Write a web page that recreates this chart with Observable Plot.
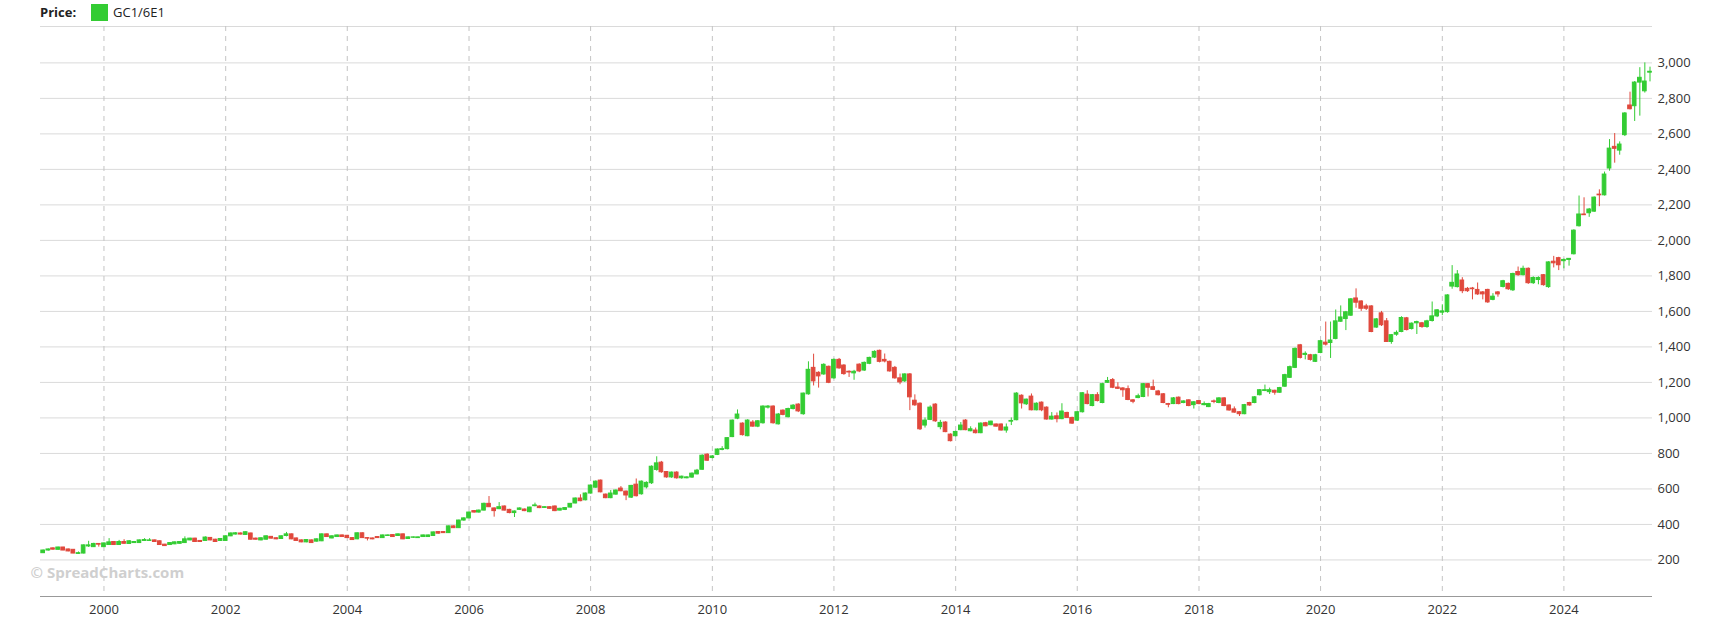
<!DOCTYPE html>
<html><head><meta charset="utf-8">
<script src="https://cdn.jsdelivr.net/npm/d3@7"></script>
<script src="https://cdn.jsdelivr.net/npm/@observablehq/plot@0.6"></script>
<style>
body{margin:0;background:#fff;font-family:"Open Sans",sans-serif;}
#legend{position:relative;height:20px;width:1735px;font-size:13px;color:#222;}
#legend span{position:absolute;line-height:17px;top:4px;}
#legend .sw{top:4px;width:17px;height:17px;background:#33cc33;}
#chart svg{display:block;overflow:visible;}
</style></head><body>
<div id="legend"><span style="left:40px;font-weight:bold;">Price:</span><span class="sw" style="left:91px;"></span><span style="left:113px;">GC1/6E1</span></div>
<div id="chart"></div>
<script>
const startYear = 1999; // first monthly candle: Jan 1999
const opens = [
238,253,265,257,270,259,257,234,236,276,272,290,
272,284,301,284,301,290,295,295,307,307,310,305,
286,284,288,291,295,310,320,307,307,324,314,307,
307,333,343,349,341,349,320,310,314,330,322,318,
335,344,321,310,299,310,303,305,344,321,329,338,
336,323,316,350,323,321,329,323,335,340,335,344,
318,325,323,329,329,335,357,357,351,389,379,422,
434,475,467,478,516,490,486,501,482,464,482,484,
469,503,501,493,497,501,478,482,495,518,546,536,
574,607,647,568,548,568,602,585,551,624,570,609,
632,707,748,695,665,692,660,660,664,682,708,793,
774,792,820,824,892,996,968,897,974,951,970,1058,
1064,964,1041,1004,1050,1075,1021,1133,1282,1254,1245,1288,
1223,1327,1295,1260,1251,1300,1267,1305,1340,1378,1327,1316,
1282,1223,1206,1245,1097,1080,957,989,1075,948,974,906,
897,931,985,925,929,914,970,959,963,963,929,979,
987,1125,1077,1120,1043,1086,1058,991,1009,993,1028,1000,
985,1032,1131,1067,1128,1084,1198,1213,1171,1166,1162,1099,
1112,1118,1190,1173,1149,1133,1078,1078,1114,1084,1099,1072,
1095,1072,1061,1093,1084,1110,1070,1048,1032,1021,1084,1084,
1128,1152,1145,1153,1142,1176,1226,1282,1409,1355,1353,1316,
1366,1424,1422,1445,1542,1557,1576,1673,1656,1628,1628,1509,
1589,1544,1428,1469,1484,1561,1501,1533,1533,1512,1546,1572,
1593,1596,1740,1737,1774,1727,1729,1721,1707,1721,1665,1707,
1738,1755,1719,1822,1804,1840,1759,1777,1804,1737,1880,1900,
1883,1890,1922,2080,2146,2153,2162,2258,2254,2405,2527,2506,
2593,2760,2756,2889,2840,2945
];
const highs = [
256,262,268,272,271,261,258,245,284,305,294,292,
295,320,304,310,314,308,304,312,320,320,312,307,
288,297,301,303,330,322,322,309,330,326,316,320,
335,352,353,352,358,351,323,324,335,332,324,335,
355,346,323,312,314,312,318,346,346,335,340,340,
338,325,352,352,325,323,331,340,341,342,346,346,
329,329,329,340,340,357,359,359,391,392,424,437,
470,478,481,520,557,493,523,504,485,476,493,487,
497,520,504,499,500,504,491,495,518,549,567,577,
622,645,650,571,591,594,613,588,620,656,645,640,
730,781,755,698,695,697,672,668,690,710,792,798,
788,825,838,889,988,1045,972,990,985,985,1068,1070,
1068,1025,1045,1055,1075,1080,1140,1316,1359,1260,1305,1292,
1332,1335,1300,1265,1268,1305,1315,1342,1378,1382,1360,1320,
1290,1247,1248,1250,1130,1085,1000,1068,1080,986,978,910,
925,974,990,950,943,972,975,982,966,966,966,1000,
1142,1130,1106,1135,1085,1090,1062,1030,1028,1080,1032,1004,
1036,1142,1153,1132,1142,1195,1228,1222,1198,1170,1180,1103,
1134,1194,1194,1213,1155,1137,1082,1115,1118,1096,1102,1092,
1098,1090,1082,1101,1114,1114,1073,1062,1035,1076,1088,1120,
1160,1185,1168,1156,1172,1246,1292,1394,1414,1372,1358,1358,
1437,1540,1540,1608,1631,1600,1672,1727,1660,1640,1632,1560,
1600,1560,1470,1490,1570,1566,1535,1545,1538,1550,1653,1610,
1637,1694,1858,1830,1790,1735,1735,1760,1712,1725,1700,1712,
1775,1760,1815,1850,1855,1845,1795,1795,1808,1880,1910,1905,
1895,1898,2060,2250,2240,2180,2245,2285,2385,2568,2602,2555,
2720,2835,2895,2973,3000,2976
];
const lows = [
236,250,255,255,252,246,235,232,234,270,270,272,
270,282,282,282,288,288,293,293,305,305,299,282,
276,282,286,289,293,308,299,299,305,308,299,305,
305,331,341,341,339,312,312,308,312,318,314,316,
330,314,305,297,297,293,301,303,327,319,327,327,
321,310,314,321,307,314,321,321,333,327,333,314,
316,321,321,327,327,333,346,349,349,377,377,418,
432,464,464,476,495,441,483,476,460,439,479,472,
466,499,489,490,485,472,476,478,493,516,528,533,
571,604,578,545,545,565,584,534,546,555,565,600,
625,700,688,660,660,655,655,657,660,679,705,755,
770,788,815,820,889,990,898,894,948,945,965,1050,
965,960,1012,1000,1045,1030,1015,1128,1180,1168,1240,1193,
1218,1274,1240,1228,1212,1255,1262,1300,1335,1310,1310,1258,
1218,1187,1200,1041,1065,929,943,985,975,933,917,865,
893,928,928,922,910,911,950,956,948,926,914,957,
984,1050,1070,1040,1040,1035,988,988,972,990,997,964,
980,1028,1074,1063,1090,1080,1194,1165,1160,1116,1097,1080,
1108,1114,1118,1154,1124,1080,1057,1075,1074,1080,1063,1050,
1074,1068,1058,1080,1080,1063,1038,1026,1008,1018,1066,1080,
1124,1148,1132,1128,1138,1172,1222,1278,1332,1327,1320,1312,
1362,1405,1335,1440,1538,1492,1572,1618,1600,1605,1480,1505,
1515,1425,1415,1460,1480,1490,1495,1470,1505,1505,1540,1565,
1576,1590,1725,1732,1700,1707,1665,1690,1665,1645,1660,1680,
1732,1718,1712,1798,1800,1752,1752,1750,1742,1730,1845,1830,
1840,1855,1918,2075,2140,2130,2158,2190,2250,2390,2435,2480,
2585,2735,2670,2700,2830,2893
];
const closes = [
253,259,258,270,253,248,236,238,282,282,290,286,
293,299,284,301,291,305,301,310,312,310,301,284,
278,295,299,301,316,320,301,301,326,310,301,318,
333,349,350,343,356,314,314,322,333,320,316,333,
344,316,307,299,312,295,316,344,329,333,338,329,
323,312,350,323,320,316,323,338,338,329,344,316,
327,327,327,338,338,355,348,351,389,379,422,434,
467,467,478,516,497,475,497,478,464,473,490,475,
495,507,492,497,488,475,488,492,516,546,531,574,
619,641,581,548,574,591,587,563,617,559,641,634,
725,744,694,665,692,660,669,665,686,703,787,759,
783,822,824,886,985,1019,903,985,951,981,1064,1064,
970,1019,1017,1050,1069,1037,1137,1271,1206,1234,1299,1198,
1327,1279,1247,1256,1260,1262,1310,1338,1372,1316,1318,1262,
1223,1200,1245,1116,1071,936,985,1058,981,972,920,869,
921,957,931,936,914,968,953,979,951,929,946,983,
1137,1082,1103,1043,1080,1043,991,1007,993,1036,1000,968,
1032,1139,1078,1128,1095,1190,1208,1170,1164,1156,1101,1091,
1122,1190,1170,1158,1128,1084,1074,1110,1078,1093,1067,1088,
1078,1078,1078,1090,1110,1067,1042,1030,1021,1072,1070,1116,
1156,1156,1156,1142,1168,1241,1286,1389,1338,1361,1327,1353,
1432,1413,1436,1544,1566,1595,1668,1649,1615,1615,1484,1555,
1522,1428,1466,1479,1563,1495,1531,1540,1512,1544,1572,1606,
1600,1690,1761,1808,1714,1714,1725,1696,1696,1651,1683,1696,
1770,1725,1811,1804,1840,1759,1788,1788,1748,1876,1871,1860,
1890,1896,2055,2146,2142,2174,2241,2254,2371,2517,2516,2540,
2715,2739,2889,2916,2895,2950
];
const yTickValues = d3.range(200, 3001, 200);
const xTickYears = d3.range(2000, 2025, 2);
const watermark = ["© SpreadCharts.com"];

const up = "#33cc33", down = "#e0483c";
const data = opens.map((o, i) => ({
  date: new Date(Date.UTC(startYear, i, 1)),
  open: o, high: highs[i], low: lows[i], close: closes[i]
}));
const half = 11 * 864e5;
const colorOf = d => d.close >= d.open ? up : down;
const xTicks = xTickYears.map(y => new Date(Date.UTC(y, 0, 1)));
const yMin = -6, yMax = 3205;

const chart = Plot.plot({
  width: 1735, height: 604,
  marginTop: 6, marginBottom: 28, marginLeft: 40, marginRight: 83,
  style: {fontFamily: "'Open Sans', sans-serif", fontSize: "13px", color: "#333", background: "#fff"},
  x: {type: "utc", domain: [new Date(Date.UTC(1998, 11, 16)), new Date(Date.UTC(2025, 5, 16))]},
  y: {domain: [yMin, yMax]},
  color: {type: "identity"},
  marks: [
    Plot.gridY(yTickValues, {stroke: "#dadada", strokeOpacity: 1}),
    Plot.ruleY([yMax], {stroke: "#dadada"}),
    Plot.gridX(xTicks, {stroke: "#c4c4c4", strokeOpacity: 1, strokeDasharray: "5,5"}),
    Plot.ruleY([yMin], {stroke: "#999"}),
    Plot.axisY(yTickValues, {anchor: "right", tickSize: 0, tickPadding: 5, tickFormat: d3.format(","), fill: "#333", fontSize: 13}),
    Plot.axisX(xTicks, {tickSize: 0, tickPadding: 8, tickFormat: d3.utcFormat("%Y"), fill: "#333", fontSize: 13}),
    Plot.ruleX(data, {x: "date", y1: "low", y2: "high", stroke: colorOf, strokeWidth: 1}),
    Plot.rect(data, {
      x1: d => new Date(+d.date - half), x2: d => new Date(+d.date + half),
      y1: "open", y2: "close", fill: colorOf, stroke: colorOf, strokeWidth: 1
    }),
    Plot.text(watermark, {text: d => d, frameAnchor: "bottom-left", dx: -10, dy: -23, textAnchor: "start", lineAnchor: "middle", fontWeight: "bold", fontSize: 15, fill: "#cfcfcf"})
  ]
});
document.getElementById("chart").appendChild(chart);
</script>
</body></html>
